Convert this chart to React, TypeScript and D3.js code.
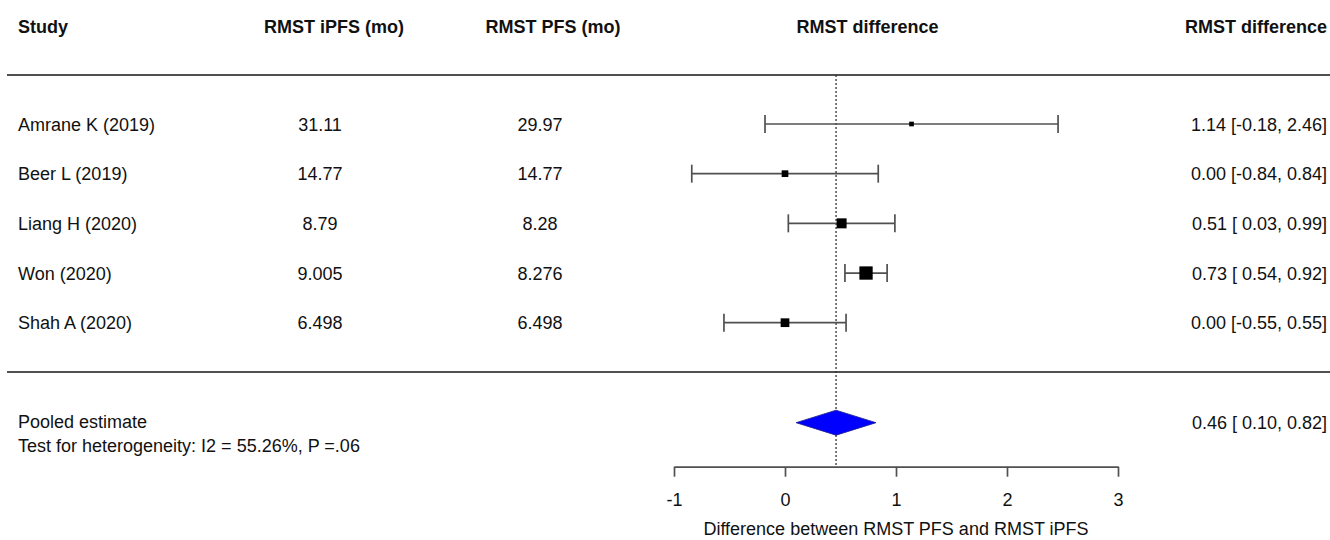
import { useEffect, useRef } from 'react';
import * as d3 from 'd3';

// study rows
const studies = ['Amrane K (2019)', 'Beer L (2019)', 'Liang H (2020)', 'Won (2020)', 'Shah A (2020)'];
const rmstIpfs = ['31.11', '14.77', '8.79', '9.005', '6.498'];
const rmstPfs = ['29.97', '14.77', '8.28', '8.276', '6.498'];
const diffEst = [1.14, 0.0, 0.51, 0.73, 0.0];
const diffLow = [-0.18, -0.84, 0.03, 0.54, -0.55];
const diffHigh = [2.46, 0.84, 0.99, 0.92, 0.55];
// relative weight (%)
const weights = [5.2, 10.7, 23.8, 42.2, 18.1];

// pooled
const pooled = { est: 0.46, low: 0.1, high: 0.82 };
const pooledLabel = 'Pooled estimate';
const heteroLabel = 'Test for heterogeneity: I2 = 55.26%, P =.06';

const headers = ['Study', 'RMST iPFS (mo)', 'RMST PFS (mo)', 'RMST difference', 'RMST difference'];
const xTicks = [-1, 0, 1, 2, 3];
const xDomain = [-1, 3];
const axisTitle = 'Difference between RMST PFS and RMST iPFS';

// forestplot-style "est [lo, hi]" with a space padding non-negative bounds
const fmt = (lo: number, est: number, hi: number) => {
  const pad = (v: number) => (v < 0 ? v.toFixed(2) : ' ' + v.toFixed(2));
  return `${est.toFixed(2)} [${pad(lo)}, ${hi.toFixed(2)}]`;
};

export default function App() {
  const svgRef = useRef<SVGSVGElement>(null);

  useEffect(() => {
    if (!svgRef.current) return;
    const W = 1330;
    const H = 540;
    const font = 'Liberation Sans, Arial, sans-serif';
    const ink = '#111';
    const lineCol = '#505050';

    const svg = d3.select(svgRef.current).attr('width', W).attr('height', H);
    svg.selectAll('*').remove();

    const x = d3.scaleLinear().domain(xDomain).range([674, 1118]);
    const rowY = d3.scaleLinear().domain([0, studies.length - 1]).range([124, 322.7]);
    const box = d3.scaleSqrt().domain([0, d3.max(weights) ?? 1]).range([0, 13.3]);

    const pooledY = 422.7;
    const axisY = 466.7;
    const topLine = 75;
    const midLine = 372;

    const colX = [18, 334, 553, 867.5, 1327];
    const colAnchor = ['start', 'middle', 'middle', 'middle', 'end'];
    const dataX = [18, 320, 540];

    // headers
    svg
      .append('g')
      .selectAll('text')
      .data(headers)
      .join('text')
      .attr('x', (_, i) => colX[i])
      .attr('y', 33)
      .attr('text-anchor', (_, i) => colAnchor[i])
      .attr('font-family', font)
      .attr('font-size', 18)
      .attr('font-weight', 'bold')
      .attr('fill', ink)
      .text((d) => d);

    // separators
    [topLine, midLine].forEach((y) => {
      svg
        .append('line')
        .attr('x1', 7)
        .attr('x2', W)
        .attr('y1', y)
        .attr('y2', y)
        .attr('stroke', lineCol)
        .attr('stroke-width', 1.8);
    });

    // reference line at pooled estimate
    svg
      .append('line')
      .attr('x1', x(pooled.est))
      .attr('x2', x(pooled.est))
      .attr('y1', topLine)
      .attr('y2', axisY)
      .attr('stroke', '#333')
      .attr('stroke-width', 1.3)
      .attr('stroke-dasharray', '2,2');

    // table text
    const rows = svg.append('g').attr('font-family', font).attr('font-size', 18).attr('fill', ink);
    [studies, rmstIpfs, rmstPfs].forEach((col, c) => {
      rows
        .append('g')
        .selectAll('text')
        .data(col)
        .join('text')
        .attr('x', dataX[c])
        .attr('y', (_, i) => rowY(i) + 6.5)
        .attr('text-anchor', c === 0 ? 'start' : 'middle')
        .text((d) => d);
    });
    rows
      .append('g')
      .selectAll('text')
      .data(diffEst)
      .join('text')
      .attr('x', colX[4])
      .attr('y', (_, i) => rowY(i) + 6.5)
      .attr('text-anchor', 'end')
      .style('white-space', 'pre')
      .text((d, i) => fmt(diffLow[i], d, diffHigh[i]));

    // CIs
    const ci = svg.append('g').attr('stroke', lineCol).attr('stroke-width', 1.7);
    studies.forEach((_, i) => {
      const y = rowY(i);
      ci.append('line').attr('x1', x(diffLow[i])).attr('x2', x(diffHigh[i])).attr('y1', y).attr('y2', y);
      [diffLow[i], diffHigh[i]].forEach((v) => {
        ci.append('line').attr('x1', x(v)).attr('x2', x(v)).attr('y1', y - 9).attr('y2', y + 9);
      });
    });
    svg
      .append('g')
      .selectAll('rect')
      .data(diffEst)
      .join('rect')
      .attr('x', (d, i) => x(d) - box(weights[i]) / 2)
      .attr('y', (_, i) => rowY(i) - box(weights[i]) / 2)
      .attr('width', (_, i) => box(weights[i]))
      .attr('height', (_, i) => box(weights[i]))
      .attr('fill', '#000');

    // pooled row
    const dh = 12.5;
    svg
      .append('path')
      .attr(
        'd',
        `M${x(pooled.low)},${pooledY} L${x(pooled.est)},${pooledY - dh} L${x(pooled.high)},${pooledY} L${x(pooled.est)},${pooledY + dh} Z`
      )
      .attr('fill', '#0000ff')
      .attr('stroke', '#1a1a8a')
      .attr('stroke-width', 0.8);

    rows.append('text').attr('x', 18).attr('y', 428).text(pooledLabel);
    rows.append('text').attr('x', 18).attr('y', 451.5).text(heteroLabel);
    rows
      .append('text')
      .attr('x', colX[4])
      .attr('y', pooledY + 6.5)
      .attr('text-anchor', 'end')
      .style('white-space', 'pre')
      .text(fmt(pooled.low, pooled.est, pooled.high));

    // x axis
    const axis = svg
      .append('g')
      .attr('transform', `translate(0,${axisY})`)
      .call(d3.axisBottom(x).tickValues(xTicks).tickSize(10).tickSizeOuter(0).tickPadding(17).tickFormat(d3.format('d')));
    axis.select('.domain').attr('stroke', lineCol).attr('stroke-width', 1.7);
    axis.selectAll('.tick line').attr('stroke', lineCol).attr('stroke-width', 1.7);
    axis
      .selectAll('.tick text')
      .attr('font-family', font)
      .attr('font-size', 18)
      .attr('fill', ink)
      .text((d) => String(d));

    svg
      .append('text')
      .attr('x', x(1))
      .attr('y', 535)
      .attr('text-anchor', 'middle')
      .attr('font-family', font)
      .attr('font-size', 18)
      .attr('fill', ink)
      .text(axisTitle);
  }, []);

  return <svg ref={svgRef} style={{ position: 'absolute', left: 0, top: 0, display: 'block', background: '#fff' }} />;
}
